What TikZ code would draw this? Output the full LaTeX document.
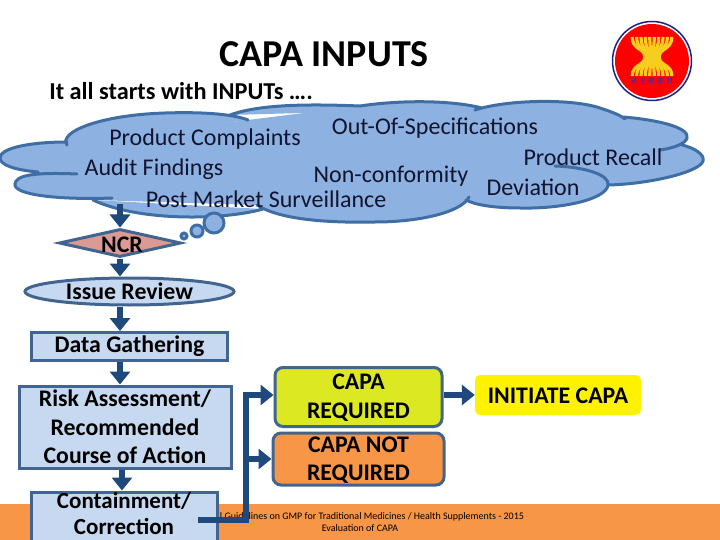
\documentclass[tikz,border=0pt]{standalone}
\usepackage{fontspec}
\setmainfont{Carlito}
\usetikzlibrary{arrows.meta,shapes.geometric,calc}
\definecolor{cloudfill}{HTML}{8DB2E2}
\definecolor{cloudline}{HTML}{3F6EA5}
\definecolor{boxfill}{HTML}{C6D9F1}
\definecolor{boxline}{HTML}{41658F}
\definecolor{arrowblue}{HTML}{1F497D}
\definecolor{bandorange}{HTML}{F79646}
\definecolor{capagreen}{HTML}{DCE822}
\definecolor{ncrred}{HTML}{DC9A94}
\definecolor{cloudtext}{HTML}{10142E}
\definecolor{sheaf}{HTML}{F7CE1E}
\definecolor{aseanblue}{HTML}{4A2AA8}
\definecolor{ringblue}{HTML}{20208A}
\tikzset{
  titletext/.style={font=\fontsize{38}{40}\selectfont\bfseries,inner sep=0pt},
  subtext/.style={font=\fontsize{24.3}{26}\selectfont\bfseries,inner sep=0pt},
  cloudlabel/.style={font=\fontsize{24}{26}\selectfont,text=cloudtext,inner sep=0pt},
  boxlabel/.style={font=\fontsize{23.8}{28.5}\selectfont\bfseries,align=center,inner sep=0pt},
  flowbox/.style={boxlabel,rectangle,draw=boxline,fill=boxfill,line width=3pt},
  capabox/.style={boxlabel,rectangle,rounded corners=8pt,draw=boxline,line width=3pt},
  flowarrow/.style={draw=arrowblue,line width=6pt,-{Triangle[length=13pt,width=20pt]}},
  cloudstroke/.style={draw=cloudline,line width=3pt,line cap=round},
  bubble/.style={circle,draw=cloudline,fill=cloudfill,line width=3pt,inner sep=0pt},
  footertext/.style={font=\fontsize{10}{12}\selectfont,inner sep=0pt,align=center},
}
\def\cloudpath{
 (67,145) .. controls (58,132) and (100,115) .. (165,113) .. controls (195,112) and (230,113) .. (248,120)
 (230,115) .. controls (260,104) and (310,104) .. (360,106) .. controls (400,100) and (450,100) .. (482,108)
 (475,110) .. controls (505,100) and (570,98) .. (600,108) .. controls (612,112) and (620,115) .. (625,119)
 (623,117) .. controls (660,120) and (690,128) .. (687,138) .. controls (686,143) and (675,148) .. (660,150)
 (682,145) .. controls (695,148) and (705,155) .. (703,161) .. controls (700,172) and (650,184) .. (608,185)
 (555,166) .. controls (585,167) and (610,175) .. (608,185) .. controls (606,200) and (560,209) .. (520,208) .. controls (495,208) and (475,205) .. (466,200)
 (469,197) .. controls (462,212) and (420,222) .. (375,222) .. controls (330,223) and (280,220) .. (257,205)
 (263,209) .. controls (225,220) and (140,222) .. (93,200)
 (112,198) .. controls (60,200) and (13,195) .. (15,184) .. controls (16,176) and (30,172) .. (77,174)
 (38,172) .. controls (15,170) and (0,165) .. (0,158) .. controls (0,148) and (30,142) .. (67,142)
}
\begin{document}
\begin{tikzpicture}[x=1pt,y=-1pt]
\useasboundingbox (0,0) rectangle (720,540);
\clip (0,0) rectangle (720,540);
% footer band
\fill[bandorange] (0,504) rectangle (720,540);
\node[footertext] (foot1) at (372,516.5) {l Guidelines on GMP for Traditional Medicines / Health Supplements - 2015};
\node[footertext] (foot2) at (360,528) {Evaluation of CAPA};
% titles
\node[titletext] (title) at (324,54) {CAPA INPUTS};
\node[subtext] (sub) at (181,91) {It all starts with INPUTs ….};
% logo
\fill[white] (652,61) circle (40);
\draw[draw=ringblue,line width=1.5pt] (652,61) circle (39.5);
\fill[red] (652,61) circle (37);
\foreach \t in {-4.5,-3.5,...,4.5}{
  \draw[sheaf,line width=3.2pt]
    ({652+\t*4.4},37) .. controls ({652+\t*4.4},50) and ({652+\t*1.6},48) .. ({652+\t*1.6},57)
    .. controls ({652+\t*1.6},66) and ({652+\t*4.4},64) .. ({652+\t*4.4},76);
}
\node[font=\fontsize{11}{11}\selectfont\bfseries,text=aseanblue,inner sep=0pt] (asean) at (652,81) {a\,\,s\,\,e\,\,a\,\,n};
% cloud
\fill[cloudfill] (2,158) -- (67,143) -- (248,120) -- (360,106) -- (473,108) -- (553,102) -- (623,118) -- (687,138) -- (682,146) -- (703,161) -- (608,185) -- (466,200) -- (375,222) -- (257,205) -- (93,200) -- (15,184) -- (38,172) -- cycle;
\fill[cloudfill] \cloudpath;
\draw[cloudstroke] \cloudpath;
\node[cloudlabel] (l1) at (205,139.5) {Product Complaints};
\node[cloudlabel] (l2) at (435,128) {Out-Of-Specifications};
\node[cloudlabel] (l3) at (593,157.5) {Product Recall};
\node[cloudlabel] (l4) at (154,169.5) {Audit Findings};
\node[cloudlabel] (l5) at (391,176) {Non-conformity};
\node[cloudlabel] (l6) at (533,187.5) {Deviation};
\node[cloudlabel] (l7) at (266,199) {Post Market Surveillance};
\coordinate (cloudbase) at (120,204);
% flow nodes
\node[diamond,aspect=4.2,minimum width=122pt,minimum height=28pt,inner sep=0pt,draw=boxline,fill=ncrred,line width=3pt] (ncr) at (120,243) {};
\node[bubble,minimum size=20pt] (b1) at (214,223) {};
\node[bubble,minimum size=12pt] (b2) at (197,231) {};
\node[bubble,minimum size=6pt] (b3) at (184,236) {};
\node[font=\fontsize{23.8}{26}\selectfont\bfseries,inner sep=0pt] (ncrtext) at (122,244.5) {NCR};
\node[ellipse,minimum width=209pt,minimum height=27pt,inner sep=0pt,draw=boxline,fill=boxfill,line width=3pt,font=\fontsize{23.8}{26}\selectfont\bfseries] (issue) at (129.5,291.5) {Issue Review};
\node[flowbox,minimum width=196pt,minimum height=28pt] (data) at (129.5,346.5) {Data Gathering};
\node[flowbox,minimum width=212pt,minimum height=82pt] (risk) at (125,427) {Risk Assessment/\\Recommended\\Course of Action};
\node[flowbox,minimum width=186pt,minimum height=50pt] (cont) at (124,517) {};
\node[boxlabel,font=\fontsize{23}{25.5}\selectfont\bfseries] (conttext) at (124,513.5) {Containment/\\Correction};
\node[capabox,fill=capagreen,minimum width=167pt,minimum height=59pt] (req) at (358.5,397) {};
\node[boxlabel] (reqtext) at (358.5,397.5) {CAPA\\REQUIRED};
\node[capabox,fill=bandorange,minimum width=171pt,minimum height=52pt] (notreq) at (358.5,459) {};
\node[boxlabel] (notreqtext) at (358.5,460) {CAPA NOT\\REQUIRED};
\node[boxlabel,rectangle,rounded corners=5pt,fill=yellow,minimum width=166pt,minimum height=40pt] (init) at (558,395) {};
\node[boxlabel] (inittext) at (558,396) {INITIATE CAPA};
% arrows
\coordinate (branchstart) at (198,520);
\coordinate (corner) at (246,520);
\draw[flowarrow] (cloudbase) -- (ncr.north);
\draw[flowarrow] (ncr.south) -- (ncr.south |- issue.north);
\draw[flowarrow] (issue.south -| ncr.south) -- (data.north -| ncr.south);
\draw[flowarrow] (data.south -| ncr.south) -- (risk.north -| ncr.south);
\draw[flowarrow] (risk.south -| 122,0) -- (cont.north -| 122,0);
\draw[flowarrow] (req.east |- init.west) -- (init.west);
\draw[flowarrow] (branchstart) -- (corner) |- (req.west |- init.west);
\draw[flowarrow] (corner |- notreq.west) -- (notreq.west);
\end{tikzpicture}
\end{document}
